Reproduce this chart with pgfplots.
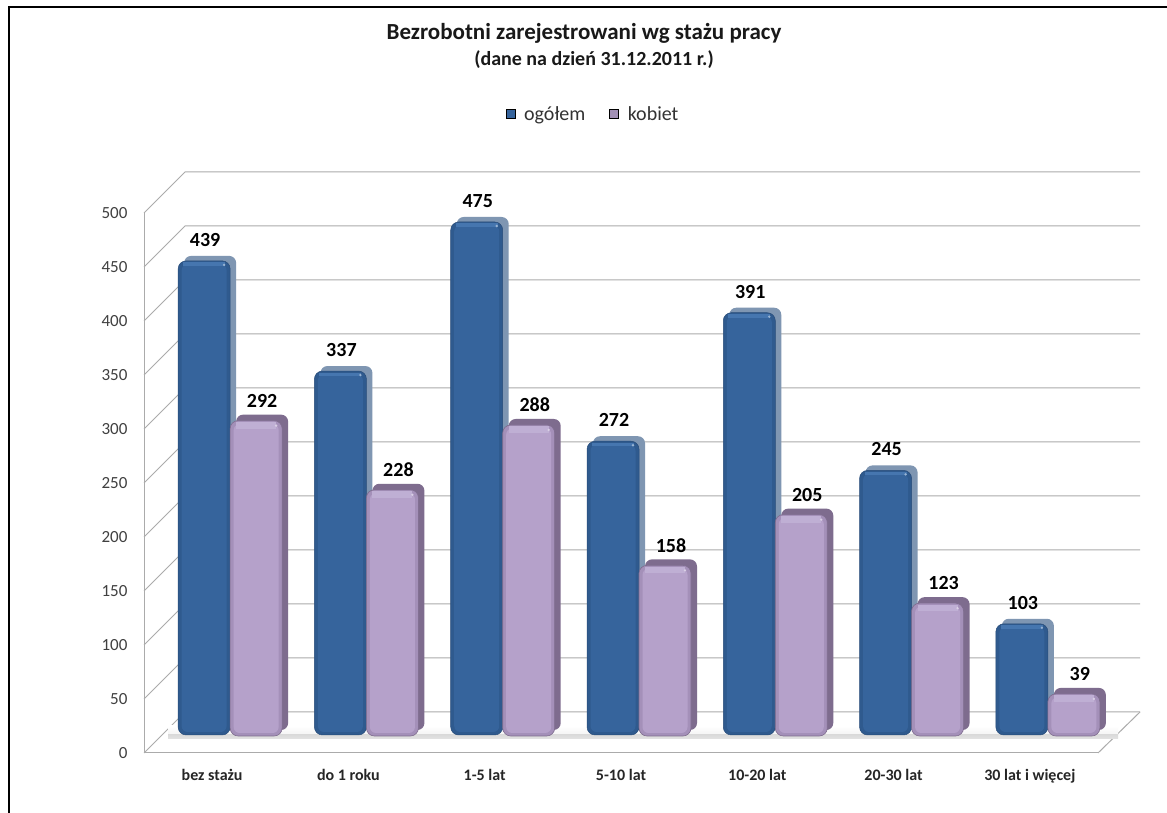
\documentclass[border=0pt]{standalone}
\usepackage{pgfplots}
\pgfplotsset{compat=1.18}
\usepackage{pgfplotstable}
\usepackage{fontspec}
\setmainfont{Carlito}
\definecolor{gridc}{HTML}{ABABAB}
\definecolor{bluefront}{HTML}{36649C}
\definecolor{blueedge}{HTML}{2F5A8E}
\definecolor{bluelight}{HTML}{4676AF}
\definecolor{blueside}{HTML}{7F96B2}
\definecolor{purpfront}{HTML}{B5A1CA}
\definecolor{purpedge}{HTML}{A490B9}
\definecolor{purplight}{HTML}{BFAFD4}
\definecolor{purpside}{HTML}{7E6C8E}
\pgfplotstableread{
x ogolem kobiet
0 439 292
1 337 228
2 475 288
3 272 158
4 391 205
5 245 123
6 103 39
}\dane
\pgfdeclareplotmark{hlb}{%
  \pgfsetfillcolor{bluelight}\pgfsetlinewidth{0pt}%
  \pgfpathrectangle{\pgfpoint{-21pt}{-5pt}}{\pgfpoint{42pt}{3.5pt}}\pgfusepathqfill
  \pgfsetfillcolor{white!45!bluelight}%
  \pgfpathcircle{\pgfpoint{20pt}{-4pt}}{1.3pt}\pgfusepathqfill}
\pgfdeclareplotmark{hlp}{%
  \pgfsetfillcolor{purplight}\pgfsetlinewidth{0pt}%
  \pgfpathrectangle{\pgfpoint{-20pt}{-8pt}}{\pgfpoint{40pt}{6.5pt}}\pgfusepathqfill
  \pgfsetfillcolor{white!40!purplight}%
  \pgfpathcircle{\pgfpoint{20pt}{-5pt}}{1.3pt}\pgfusepathqfill}
\begin{document}
\begin{tikzpicture}[x=1pt,y=1pt]
\useasboundingbox (0,0) rectangle (1167,813);
\fill[white] (0,0) rectangle (1167,813);
\draw[black,line width=1.6pt] (9,0) -- (9,806) -- (1167,806);
\begin{axis}[
  at={(144pt,60pt)}, anchor=south west,
  scale only axis, width=954pt, height=540pt,
  xmin=-0.5, xmax=6.5, ymin=0, ymax=500,
  clip=false,
  axis x line*=bottom, axis y line*=left,
  axis line style={gridc,line width=1pt,-},
  major tick length=0pt,
  xtick={0,...,6},
  xticklabels={bez stażu,do 1 roku,1-5 lat,5-10 lat,10-20 lat,20-30 lat,30 lat i więcej},
  ytick={0,50,...,500},
  x tick label style={font=\fontsize{16}{18}\selectfont\bfseries,text=black!85,yshift=-13pt},
  y tick label style={font=\fontsize{17}{19}\selectfont,text=black!75,xshift=-13pt},
  /pgf/number format/assume math mode=true,
  legend style={at={(0.4707,1.183)},anchor=center,draw=none,fill=none,
    font=\fontsize{20}{22}\selectfont,text=black!80,
    legend columns=2,
    /tikz/every odd column/.append style={column sep=7pt},
    /tikz/every even column/.append style={column sep=22pt}},
  legend image code/.code={\fill[#1] (0pt,-4.5pt) rectangle (9pt,4.5pt);},
]
% walls and floor
\pgfplotsinvokeforeach{0,50,...,500}{
  \draw[gridc,line width=1pt] (axis cs:-0.5,#1) -- ++(41pt,41pt) -- ++(955pt,0pt);
}
\draw[gridc,line width=1pt] (axis cs:6.5,0) -- ++(42pt,41pt);
% floor shadow
\fill[top color=white,bottom color=black!14] (axis cs:-0.5,0) ++(24pt,18pt) rectangle ++(950pt,9pt);
\fill[top color=black!14,bottom color=white] (axis cs:-0.5,0) ++(24pt,14pt) rectangle ++(950pt,4pt);
% legend entries
\addlegendimage{fill=bluefront}\addlegendentry{ogółem}
\addlegendimage{fill=purpfront!90!black}\addlegendentry{kobiet}
% blue: depth, face, inner face, highlight
\addplot[ybar,bar width=52pt,bar shift=-26pt,xshift=24pt,yshift=23pt,fill=blueside,draw=none,rounded corners=7pt,forget plot] table[x=x,y=ogolem]{\dane};
\addplot[ybar,bar width=52pt,bar shift=-26pt,xshift=18pt,yshift=18pt,fill=blueedge,draw=blueedge!85!black,line width=.5pt,rounded corners=8pt,forget plot] table[x=x,y=ogolem]{\dane};
\addplot[ybar,bar width=45pt,bar shift=-26pt,xshift=18pt,yshift=21pt,fill=bluefront,draw=none,rounded corners=6pt,forget plot] table[x=x,y expr=\thisrow{ogolem}-6]{\dane};
\addplot[only marks,mark=hlb,xshift=-8pt,yshift=18pt,forget plot] table[x=x,y=ogolem]{\dane};
% purple: depth, face, inner face, highlight
\addplot[ybar,bar width=52pt,bar shift=26pt,xshift=24pt,yshift=23pt,fill=purpside,draw=none,rounded corners=7pt,forget plot] table[x=x,y=kobiet]{\dane};
\addplot[ybar,bar width=52pt,bar shift=26pt,xshift=18pt,yshift=17pt,fill=purpedge,draw=purpside,line width=.6pt,rounded corners=8pt,forget plot] table[x=x,y=kobiet]{\dane};
\addplot[ybar,bar width=45pt,bar shift=26pt,xshift=18pt,yshift=20pt,fill=purpfront,draw=none,rounded corners=6pt,forget plot] table[x=x,y expr=\thisrow{kobiet}-6]{\dane};
\addplot[only marks,mark=hlp,xshift=44pt,yshift=17pt,forget plot] table[x=x,y=kobiet]{\dane};
% value labels
\addplot[only marks,mark=none,draw=none,xshift=-7pt,yshift=18pt,forget plot,
  nodes near coords,
  every node near coord/.append style={anchor=center,yshift=21pt,text=black,font=\fontsize{20}{22}\selectfont\bfseries,/pgf/number format/assume math mode=true}]
  table[x=x,y=ogolem]{\dane};
\addplot[only marks,mark=none,draw=none,xshift=50pt,yshift=17pt,forget plot,
  nodes near coords,
  every node near coord/.append style={anchor=center,yshift=20pt,text=black,font=\fontsize{20}{22}\selectfont\bfseries,/pgf/number format/assume math mode=true}]
  table[x=x,y=kobiet]{\dane};
\end{axis}
\node[anchor=center,font=\fontsize{23}{25}\selectfont\bfseries,text=black!90] at (584,780) {Bezrobotni zarejestrowani wg stażu pracy};
\node[anchor=center,font=\fontsize{20}{22}\selectfont\bfseries,text=black!90] at (594,753) {(dane na dzień 31.12.2011 r.)};
\end{tikzpicture}
\end{document}
